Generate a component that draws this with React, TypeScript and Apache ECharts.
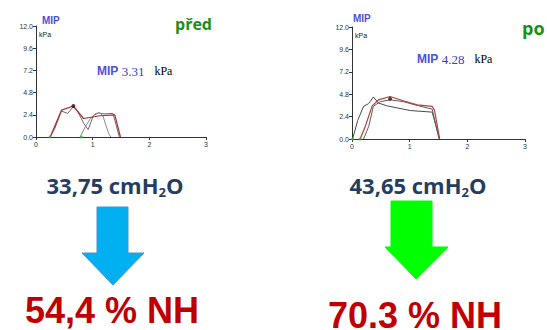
import React, { useEffect, useRef } from "react";
import * as echarts from "echarts";

const xTicks = [0, 1, 2, 3];
const yTicks = [0, 2.4, 4.8, 7.2, 9.6, 12.0];

// Left chart (před)
const leftRed = [[0.25, 0], [0.45, 2.9], [0.66, 3.35], [0.84, 2.0], [1.13, 2.3], [1.39, 2.4], [1.49, 0]];
const leftGray1 = [[0.25, 0], [0.33, 0.9], [0.45, 2.8], [0.56, 2.55], [0.66, 3.3], [0.74, 2.7], [0.84, 1.5], [0.92, 0.8], [1.01, 2.3], [1.1, 2.6], [1.2, 2.5], [1.36, 2.55], [1.47, 0]];
const leftGray2 = [[0.78, 0], [0.86, 1.0], [0.95, 1.9], [1.04, 2.5], [1.12, 2.65], [1.18, 2.3], [1.28, 0.4], [1.32, 0]];
const leftPeak = [[0.66, 3.35]];
const leftStarts = [[0.25, 0], [0.8, 0]];

// Right chart (po)
const rightGray1 = [[0.01, 0], [0.1, 2.0], [0.2, 3.5], [0.29, 3.8], [0.37, 4.5], [0.46, 3.85], [0.61, 3.55], [1.01, 3.05], [1.39, 2.88], [1.52, 0]];
const rightRed = [[0.14, 0], [0.23, 1.35], [0.35, 3.55], [0.46, 4.2], [0.66, 4.55], [0.89, 4.1], [1.13, 3.65], [1.39, 3.5], [1.43, 3.1], [1.52, 0]];
const rightGray2 = [[0.2, 0], [0.29, 1.35], [0.37, 3.5], [0.49, 4.0], [0.66, 4.2], [0.89, 4.0], [1.13, 3.6], [1.39, 3.2], [1.51, 0]];
const rightPeak = [[0.66, 4.3]];
const rightStarts = [[0.01, 0], [0.14, 0]];

const titles = ["před", "po"];
const mipValues = ["3.31", "4.28"];
const pressures = ["33,75", "43,65"];
const percents = ["54,4 % NH", "70.3 % NH"];

const axisFont = "Liberation Sans, Arial, sans-serif";

function makeX(gridIndex: number) {
  return {
    type: "value",
    gridIndex,
    min: xTicks[0],
    max: xTicks[xTicks.length - 1],
    interval: 1,
    axisLine: { show: true, lineStyle: { color: "#333", width: 1 } },
    axisTick: { show: true, length: 3, lineStyle: { color: "#333" } },
    axisLabel: { fontSize: 7, color: "#333", fontFamily: axisFont, margin: 4 },
    splitLine: { show: false },
  };
}
function makeY(gridIndex: number) {
  return {
    type: "value",
    gridIndex,
    min: yTicks[0],
    max: yTicks[yTicks.length - 1],
    interval: 2.4,
    axisLine: { show: true, lineStyle: { color: "#333", width: 1 } },
    axisTick: { show: true, length: 3, lineStyle: { color: "#333" } },
    axisLabel: {
      fontSize: 7,
      color: "#333",
      fontFamily: axisFont,
      margin: 3,
      formatter: (v: number) => v.toFixed(1),
    },
    splitLine: { show: false },
  };
}
function line(data: number[][], idx: number, color: string, width = 1) {
  return {
    type: "line",
    xAxisIndex: idx,
    yAxisIndex: idx,
    data,
    symbol: "none",
    lineStyle: { color, width },
    z: 3,
  };
}
function dots(data: number[][], idx: number, color: string, size: number) {
  return {
    type: "scatter",
    xAxisIndex: idx,
    yAxisIndex: idx,
    data,
    symbolSize: size,
    itemStyle: { color },
    z: 5,
  };
}

function mipLabel(x: number, y: number, value: string) {
  return {
    type: "text",
    x,
    y,
    style: {
      text: `{a|MIP} {b|${value}}   {c|kPa}`,
      rich: {
        a: { fontFamily: "Liberation Sans, Arial", fontWeight: "bold", fontSize: 12, fill: "#5050d8" },
        b: { fontFamily: "Liberation Serif, Times New Roman", fontSize: 13, fill: "#4040b8" },
        c: { fontFamily: "Liberation Serif, Times New Roman", fontSize: 12, fill: "#000" },
      },
      verticalAlign: "middle",
    },
  };
}

function pressureLabel(cx: number, cy: number, value: string) {
  return {
    type: "text",
    x: cx,
    y: cy,
    style: {
      text: `{a|${value} cmH}{s|2}{a|O}`,
      rich: {
        a: { fontFamily: "Open Sans", fontWeight: "bold", fontSize: 22, fill: "#253d5e", lineHeight: 26 },
        s: { fontFamily: "Open Sans", fontWeight: "bold", fontSize: 13, fill: "#253d5e", lineHeight: 8, verticalAlign: "bottom" },
      },
      align: "center",
      verticalAlign: "middle",
    },
  };
}

function pctLabel(cx: number, cy: number, value: string) {
  return {
    type: "text",
    x: cx,
    y: cy,
    style: {
      text: value,
      fontFamily: "Liberation Sans, Arial",
      fontWeight: "bold",
      fontSize: 36,
      fill: "#c00000",
      align: "center",
      verticalAlign: "middle",
    },
  };
}

function arrow(sx1: number, sx2: number, sy1: number, sy2: number, hx1: number, hx2: number, tipX: number, tipY: number, fill: string, stroke: string) {
  return {
    type: "polygon",
    shape: {
      points: [
        [sx1, sy1], [sx2, sy1], [sx2, sy2], [hx2, sy2], [tipX, tipY], [hx1, sy2], [sx1, sy2],
      ],
    },
    style: { fill, stroke, lineWidth: 1 },
  };
}

export default function App() {
  const ref = useRef<HTMLDivElement>(null);
  useEffect(() => {
    if (!ref.current) return;
    const chart = echarts.init(ref.current, undefined, { renderer: "svg" });
    chart.setOption({
      animation: false,
      backgroundColor: "#ffffff",
      grid: [
        { left: 36, top: 26, width: 170, height: 111, containLabel: false },
        { left: 352, top: 27, width: 173, height: 112, containLabel: false },
      ],
      xAxis: [makeX(0), makeX(1)],
      yAxis: [makeY(0), makeY(1)],
      series: [
        line(leftGray1, 0, "#6a6a6a"),
        line(leftGray2, 0, "#8a8a8a"),
        line(leftRed, 0, "#a83030", 1.2),
        dots(leftPeak, 0, "#3a1010", 4),
        dots(leftStarts, 0, "#2fb52f", 3),
        line(rightGray1, 1, "#4a4a4a"),
        line(rightGray2, 1, "#5a5a5a"),
        line(rightRed, 1, "#b04040", 1.2),
        dots(rightPeak, 1, "#3a1010", 4),
        dots(rightStarts, 1, "#2fb52f", 3),
      ],
      graphic: [
        { type: "text", x: 42, y: 20, style: { text: "MIP", fontFamily: "Liberation Sans, Arial", fontWeight: "bold", fontSize: 10, fill: "#5050d8", verticalAlign: "middle" } },
        { type: "text", x: 39, y: 34, style: { text: "kPa", fontFamily: "Liberation Sans, Arial", fontSize: 7, fill: "#222", verticalAlign: "middle" } },
        { type: "text", x: 353, y: 18, style: { text: "MIP", fontFamily: "Liberation Sans, Arial", fontWeight: "bold", fontSize: 10, fill: "#5050d8", verticalAlign: "middle" } },
        { type: "text", x: 355, y: 35, style: { text: "kPa", fontFamily: "Liberation Sans, Arial", fontSize: 7, fill: "#222", verticalAlign: "middle" } },
        mipLabel(97, 71, mipValues[0]),
        mipLabel(417, 59, mipValues[1]),
        { type: "text", x: 175, y: 24, style: { text: titles[0], fontFamily: "Open Sans", fontWeight: "bold", fontSize: 16, fill: "#169016", verticalAlign: "middle" } },
        { type: "text", x: 522, y: 28, style: { text: titles[1], fontFamily: "Open Sans", fontWeight: "bold", fontSize: 18, fill: "#169016", verticalAlign: "middle" } },
        pressureLabel(115, 185, pressures[0]),
        pressureLabel(418, 185, pressures[1]),
        arrow(97, 128, 207, 253, 82, 144, 113, 285, "#00b0f0", "#4a90d0"),
        arrow(391, 432, 201, 247, 385, 448, 416, 279, "#00ff00", "#00ff00"),
        pctLabel(112, 310, percents[0]),
        pctLabel(415, 315, percents[1]),
      ],
    });
    return () => chart.dispose();
  }, []);
  return (
    <div
      ref={ref}
      style={{ position: "fixed", left: 0, top: 0, width: 547, height: 330, background: "#fff" }}
    />
  );
}
